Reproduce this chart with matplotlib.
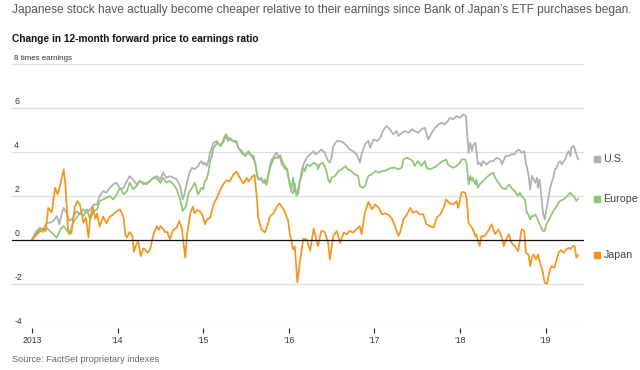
import matplotlib
matplotlib.use("Agg")
import matplotlib.pyplot as plt
from matplotlib.transforms import blended_transform_factory

plt.rcParams['font.family'] = ['Liberation Sans', 'DejaVu Sans']

# ---------------- data (decimal years, change in 12-month forward P/E) ----------------
us_years = [2013.00, 2013.05, 2013.09, 2013.13, 2013.17, 2013.21, 2013.25, 2013.29, 2013.32, 2013.35, 2013.37, 2013.41, 2013.44, 2013.48, 2013.52, 2013.56, 2013.60, 2013.64, 2013.68, 2013.72, 2013.76, 2013.79, 2013.83, 2013.87, 2013.91, 2013.95, 2013.99,
            2014.03, 2014.07, 2014.11, 2014.14, 2014.18, 2014.22, 2014.26, 2014.30, 2014.34, 2014.38, 2014.42, 2014.46, 2014.50, 2014.53, 2014.57, 2014.61, 2014.65, 2014.69, 2014.73, 2014.76, 2014.78, 2014.81, 2014.84, 2014.87, 2014.90, 2014.94, 2014.96, 2014.98,
            2015.00, 2015.02, 2015.04, 2015.06, 2015.08, 2015.10, 2015.12, 2015.16, 2015.20, 2015.22, 2015.25, 2015.27, 2015.29, 2015.31, 2015.35, 2015.39, 2015.41, 2015.43, 2015.45, 2015.49, 2015.51, 2015.55, 2015.59, 2015.61, 2015.63, 2015.64, 2015.66, 2015.68, 2015.70, 2015.72, 2015.74, 2015.76, 2015.78, 2015.80, 2015.82, 2015.84, 2015.86, 2015.88, 2015.90, 2015.92, 2015.94, 2015.96, 2015.98, 2015.99,
            2016.01, 2016.03, 2016.05, 2016.07, 2016.09, 2016.11, 2016.13, 2016.15, 2016.17, 2016.19, 2016.21, 2016.25, 2016.29, 2016.31, 2016.34, 2016.38, 2016.42, 2016.46, 2016.48, 2016.50, 2016.52, 2016.56, 2016.60, 2016.64, 2016.68, 2016.71, 2016.75, 2016.79, 2016.81, 2016.83, 2016.85, 2016.89, 2016.93, 2016.95, 2016.99,
            2017.03, 2017.07, 2017.10, 2017.14, 2017.18, 2017.22, 2017.26, 2017.28, 2017.32, 2017.36, 2017.40, 2017.44, 2017.47, 2017.51, 2017.55, 2017.59, 2017.61, 2017.63, 2017.67, 2017.71, 2017.75, 2017.79, 2017.82, 2017.86, 2017.88, 2017.92, 2017.96,
            2018.00, 2018.04, 2018.07, 2018.10, 2018.12, 2018.14, 2018.15, 2018.18, 2018.19, 2018.21, 2018.23, 2018.25, 2018.27, 2018.31, 2018.35, 2018.39, 2018.43, 2018.47, 2018.49, 2018.53, 2018.56, 2018.60, 2018.64, 2018.66, 2018.69, 2018.72, 2018.75, 2018.77, 2018.80, 2018.82, 2018.84, 2018.86, 2018.88, 2018.90, 2018.91, 2018.93, 2018.95, 2018.97, 2018.99,
            2019.01, 2019.03, 2019.05, 2019.07, 2019.09, 2019.11, 2019.13, 2019.15, 2019.17, 2019.19, 2019.21, 2019.23, 2019.25, 2019.27, 2019.29, 2019.30, 2019.33, 2019.36, 2019.38]
us_values = [0, 0.39, 0.54, 0.47, 0.77, 0.77, 0.85, 1.07, 0.7, 1.22, 1.45, 1.15, 0.85, 1.0, 1.3, 1.15, 1.38, 1.22, 1.38, 1.6, 1.6, 1.98, 2.21, 2.14, 2.36, 2.52, 2.59,
             2.29, 2.36, 2.67, 2.89, 2.74, 2.52, 2.67, 2.52, 2.59, 2.67, 2.82, 2.89, 2.74, 3.05, 2.82, 2.89, 2.82, 2.74, 2.44, 1.83, 2.06, 2.59, 3.05, 3.27, 3.2, 3.35, 3.5, 3.57,
             3.42, 3.5, 3.35, 3.57, 3.95, 4.18, 4.41, 4.48, 4.26, 4.33, 4.56, 4.71, 4.48, 4.56, 4.48, 4.41, 4.18, 4.1, 4.03, 3.8, 3.95, 3.88, 3.65, 3.5, 2.9, 2.82, 2.74, 2.82, 2.59, 2.74, 2.51, 2.97, 3.35, 3.65, 3.73, 3.88, 3.95, 3.73, 3.85, 3.6, 3.45, 3.3, 3.2, 2.9,
             2.6, 2.2, 2.1, 2.55, 2.0, 2.1, 2.65, 3.12, 3.42, 3.57, 3.73, 3.88, 4.03, 3.88, 3.95, 4.1, 3.95, 3.57, 3.5, 3.73, 4.26, 4.48, 4.48, 4.41, 4.26, 4.1, 4.03, 3.88, 3.73, 3.5, 3.88, 4.33, 4.5, 4.18, 4.56,
             4.48, 4.63, 4.94, 5.17, 5.02, 4.79, 4.94, 4.71, 4.86, 4.94, 4.86, 5.02, 4.94, 4.86, 5.02, 5.09, 4.79, 4.56, 4.86, 5.09, 5.24, 5.32, 5.24, 5.4, 5.54, 5.47, 5.62,
             5.54, 5.7, 5.62, 3.95, 4.41, 4.03, 4.26, 4.41, 4.1, 3.42, 3.5, 3.35, 3.57, 3.42, 3.57, 3.57, 3.73, 3.65, 3.42, 3.8, 3.8, 3.88, 3.88, 4.03, 4.1, 3.95, 4.03, 3.5, 2.97, 2.29, 2.9, 2.74, 2.59, 2.82, 2.36, 2.74, 1.98, 1.23, 0.92,
             1.38, 1.83, 2.29, 2.59, 2.82, 3.2, 3.27, 3.5, 3.57, 3.42, 3.57, 3.65, 3.88, 4.03, 3.8, 4.18, 4.26, 3.88, 3.65]

eu_years = [2013.00, 2013.05, 2013.09, 2013.13, 2013.17, 2013.21, 2013.25, 2013.29, 2013.33, 2013.37, 2013.41, 2013.44, 2013.48, 2013.52, 2013.56, 2013.60, 2013.64, 2013.68, 2013.72, 2013.76, 2013.79, 2013.83, 2013.87, 2013.91, 2013.95, 2013.99,
            2014.03, 2014.07, 2014.11, 2014.14, 2014.18, 2014.22, 2014.26, 2014.30, 2014.34, 2014.38, 2014.42, 2014.46, 2014.50, 2014.53, 2014.57, 2014.61, 2014.65, 2014.69, 2014.73, 2014.76, 2014.80, 2014.83, 2014.87, 2014.90, 2014.92, 2014.94, 2014.96, 2014.98,
            2015.00, 2015.02, 2015.04, 2015.06, 2015.08, 2015.10, 2015.12, 2015.14, 2015.16, 2015.20, 2015.23, 2015.25, 2015.27, 2015.29, 2015.31, 2015.35, 2015.39, 2015.41, 2015.45, 2015.49, 2015.53, 2015.55, 2015.59, 2015.63, 2015.64, 2015.66, 2015.70, 2015.72, 2015.74, 2015.78, 2015.82, 2015.84, 2015.88, 2015.90, 2015.92, 2015.94, 2015.96, 2015.98,
            2016.01, 2016.03, 2016.05, 2016.07, 2016.09, 2016.11, 2016.13, 2016.15, 2016.17, 2016.19, 2016.21, 2016.25, 2016.29, 2016.33, 2016.34, 2016.36, 2016.40, 2016.44, 2016.46, 2016.48, 2016.50, 2016.54, 2016.58, 2016.62, 2016.66, 2016.69, 2016.73, 2016.77, 2016.81, 2016.83, 2016.87, 2016.89, 2016.93, 2016.97,
            2017.01, 2017.05, 2017.09, 2017.12, 2017.16, 2017.20, 2017.24, 2017.28, 2017.32, 2017.34, 2017.38, 2017.42, 2017.45, 2017.47, 2017.51, 2017.55, 2017.59, 2017.61, 2017.65, 2017.69, 2017.73, 2017.77, 2017.80, 2017.84, 2017.86, 2017.88, 2017.92, 2017.96,
            2018.00, 2018.02, 2018.06, 2018.08, 2018.10, 2018.12, 2018.14, 2018.15, 2018.18, 2018.19, 2018.21, 2018.23, 2018.27, 2018.31, 2018.35, 2018.39, 2018.41, 2018.45, 2018.49, 2018.53, 2018.56, 2018.58, 2018.60, 2018.64, 2018.68, 2018.70, 2018.72, 2018.76, 2018.78, 2018.80, 2018.82, 2018.84, 2018.86, 2018.88, 2018.90, 2018.93, 2018.97, 2018.99,
            2019.01, 2019.03, 2019.05, 2019.07, 2019.09, 2019.13, 2019.15, 2019.17, 2019.21, 2019.25, 2019.29, 2019.30, 2019.33, 2019.36, 2019.38]
eu_values = [0, 0.3, 0.47, 0.35, 0.54, 0.39, 0.24, 0.09, 0.47, 0.62, 0.39, 0.24, 0.77, 1.0, 1.22, 1.07, 1.38, 0.92, 1.3, 1.38, 1.75, 1.83, 1.91, 1.98, 1.83, 2.06,
             2.36, 2.06, 2.21, 2.59, 2.29, 2.44, 2.67, 2.59, 2.52, 2.67, 2.82, 2.77, 2.59, 2.82, 2.59, 2.67, 2.52, 2.29, 1.83, 1.3, 1.53, 2.14, 2.36, 2.59, 2.35, 2.06, 2.2, 2.36,
             2.29, 2.67, 2.74, 3.05, 3.57, 3.8, 4.18, 4.26, 4.41, 4.26, 4.48, 4.71, 4.79, 4.56, 4.63, 4.48, 4.48, 4.18, 3.95, 3.8, 4.03, 3.88, 3.8, 2.97, 2.74, 2.74, 2.67, 2.59, 2.51, 3.27, 3.65, 3.73, 3.73, 3.75, 3.4, 3.35, 3.2, 3.2,
             2.51, 2.29, 2.82, 2.21, 2.06, 2.29, 2.67, 2.9, 3.27, 3.12, 3.42, 3.35, 3.5, 3.42, 3.2, 3.42, 3.5, 3.12, 2.74, 2.59, 2.82, 2.9, 3.12, 3.2, 3.35, 3.2, 3.12, 2.97, 2.9, 2.44, 2.36, 2.44, 2.9, 2.97,
             3.12, 3.05, 3.12, 3.12, 3.2, 3.27, 3.27, 3.2, 3.27, 3.65, 3.73, 3.65, 3.57, 3.35, 3.57, 3.35, 3.57, 3.27, 3.2, 3.27, 3.35, 3.5, 3.57, 3.65, 3.42, 3.35, 3.27, 3.35,
             3.5, 3.65, 3.65, 3.42, 2.51, 2.9, 2.67, 2.82, 2.51, 2.74, 2.36, 2.51, 2.67, 2.82, 2.97, 3.05, 2.82, 2.59, 2.36, 2.29, 2.44, 2.51, 2.36, 2.21, 1.98, 2.14, 1.98, 1.83, 1.23, 1.15, 0.92, 1.07, 1.07, 1.15, 0.99, 0.7, 0.4, 0.4,
             0.7, 0.85, 0.99, 1.15, 1.3, 1.53, 1.68, 1.76, 1.83, 1.98, 2.14, 2.06, 1.98, 1.76, 1.86]

jp_years = [2013.00, 2013.07, 2013.13, 2013.16, 2013.19, 2013.23, 2013.27, 2013.30, 2013.33, 2013.37, 2013.39, 2013.42, 2013.46, 2013.50, 2013.53, 2013.56, 2013.60, 2013.63, 2013.66, 2013.68, 2013.71, 2013.74, 2013.76, 2013.79, 2013.83, 2013.87, 2013.91, 2013.95, 2013.99,
            2014.03, 2014.07, 2014.09, 2014.11, 2014.14, 2014.17, 2014.19, 2014.21, 2014.24, 2014.27, 2014.30, 2014.32, 2014.35, 2014.38, 2014.42, 2014.46, 2014.48, 2014.50, 2014.53, 2014.55, 2014.58, 2014.61, 2014.65, 2014.69, 2014.72, 2014.75, 2014.79, 2014.81, 2014.85, 2014.88, 2014.90, 2014.93, 2014.96, 2014.99,
            2015.02, 2015.04, 2015.08, 2015.12, 2015.16, 2015.20, 2015.23, 2015.27, 2015.31, 2015.35, 2015.39, 2015.43, 2015.47, 2015.51, 2015.53, 2015.57, 2015.60, 2015.63, 2015.64, 2015.68, 2015.72, 2015.74, 2015.78, 2015.82, 2015.86, 2015.89, 2015.94, 2015.98, 2015.99,
            2016.01, 2016.05, 2016.07, 2016.10, 2016.13, 2016.17, 2016.21, 2016.25, 2016.29, 2016.31, 2016.34, 2016.38, 2016.42, 2016.46, 2016.48, 2016.52, 2016.56, 2016.60, 2016.64, 2016.68, 2016.71, 2016.75, 2016.79, 2016.83, 2016.85, 2016.89, 2016.93, 2016.97,
            2017.01, 2017.05, 2017.09, 2017.12, 2017.16, 2017.20, 2017.24, 2017.28, 2017.30, 2017.34, 2017.38, 2017.42, 2017.45, 2017.49, 2017.53, 2017.57, 2017.61, 2017.65, 2017.69, 2017.73, 2017.77, 2017.80, 2017.84, 2017.88, 2017.92, 2017.96, 2017.98,
            2018.02, 2018.06, 2018.08, 2018.10, 2018.14, 2018.18, 2018.19, 2018.23, 2018.25, 2018.29, 2018.33, 2018.37, 2018.41, 2018.45, 2018.49, 2018.51, 2018.55, 2018.57, 2018.60, 2018.64, 2018.68, 2018.72, 2018.75, 2018.77, 2018.80, 2018.82, 2018.84, 2018.86, 2018.89, 2018.91, 2018.93, 2018.97, 2018.99,
            2019.02, 2019.04, 2019.07, 2019.10, 2019.12, 2019.15, 2019.18, 2019.21, 2019.24, 2019.27, 2019.29, 2019.32, 2019.34, 2019.36, 2019.38]
jp_values = [0, 0.3, 0.5, 0.4, 1.45, 1.23, 2.36, 2.06, 2.5, 3.2, 2.5, 0.47, 0.3, 1.5, 1.75, 1.6, 0.77, 1.0, 0.1, 1.0, 1.5, 0.95, 1.2, 0.6, 1.05, 0.75, 1.05, 1.15, 1.3,
             1.38, 1.0, 0.25, 0.1, 0.35, 0.2, -0.55, -0.3, -0.05, -0.75, -0.4, -0.44, -0.6, -0.44, 0.25, 0.62, 0.45, 0.62, 0.5, 0.35, 0.35, 0.02, 0.45, 0.55, 0.85, 0.5, -0.82, 0.2, 1.23, 1.5, 1.2, 1.35, 1.3, 1.15,
             0.7, 0.9, 1.0, 1.6, 1.9, 2.27, 2.5, 2.7, 2.65, 2.95, 3.1, 2.8, 2.55, 2.8, 2.65, 2.85, 2.95, 1.75, 1.05, 0.47, 0.33, 0.5, 1.05, 1.2, 1.5, 1.65, 1.38, 1.0, 0.9,
             0.32, -0.44, -0.3, -1.95, -1.0, 0.05, 0.0, -0.5, 0.5, 0.2, -0.3, 0.4, 0.35, -0.15, -0.9, 0.17, 0.4, -0.15, 0.32, 0.25, 0.4, 0.32, 0.47, 0.62, 0.25, 1.23, 1.72, 1.38,
             1.6, 1.45, 1.15, 1.2, 1.15, 0.99, 0.62, 0.17, 0.32, 0.92, 1.15, 1.45, 1.22, 1.3, 1.15, 1.15, 0.7, 0.62, 0.55, 1.0, 1.15, 1.38, 1.83, 1.65, 1.6, 1.75, 1.45,
             2.17, 2.14, 1.83, 0.77, 0.55, 0.17, 0.25, -0.29, 0.17, 0.17, 0.4, 0.7, 0.25, 0.47, 0.1, -0.29, 0.1, 0.25, -0.13, -0.29, -0.52, 0.47, 0.4, -0.6, -0.67, -1.2, -0.82, -0.67, -0.9, -0.67, -0.97, -1.5, -1.96,
             -2.0, -1.5, -1.2, -1.27, -1.05, -0.6, -0.47, -0.6, -0.45, -0.37, -0.42, -0.29, -0.29, -0.82, -0.7]

series_names = ["U.S.", "Europe", "Japan"]
series_colors = ["#b0b0b0", "#8cc873", "#f7941d"]

year_ticks = [2013, 2014, 2015, 2016, 2017, 2018, 2019]
year_labels = ["2013", "\u201914", "\u201915", "\u201916", "\u201917", "\u201918", "\u201919"]
y_ticks = [8, 6, 4, 2, 0, -2, -4]
y_labels = ["8 times earnings", "6", "4", "2", "0", "-2", "-4"]

title = "Japanese stock have actually become cheaper relative to their earnings since Bank of Japan\u2019s ETF purchases began."
subtitle = "Change in 12-month forward price to earnings ratio"
source = "Source: FactSet proprietary indexes"

# ---------------- figure ----------------
W, H = 640, 370
fig = plt.figure(figsize=(W / 100, H / 100), dpi=100)
ax = fig.add_axes([12 / W, (H - 327.7) / H, 572 / W, 264 / H])
ax.set_xlim(2012.766, 2019.449)
ax.set_ylim(-4, 8)
for s in ax.spines.values():
    s.set_visible(False)
ax.set_yticks([])

for v in y_ticks:
    if v == 0:
        ax.axhline(v, color="#111111", lw=0.9, zorder=5)
    else:
        ax.axhline(v, color="#dedede", lw=0.9, zorder=0)

ax.set_xticks(year_ticks)
ax.set_xticklabels(year_labels)
ax.tick_params(axis="x", length=3.5, width=0.8, color="#222222", pad=2.5,
               labelsize=6.2, labelcolor="#333333")

ytrans = blended_transform_factory(ax.transAxes, ax.transData)
for v, lab in zip(y_ticks, y_labels):
    ax.text(0.004, v + 0.07, lab, transform=ytrans, ha="left", va="bottom",
            fontsize=6.3 if v != 8 else 5.7, color="#333333")

years_list = [us_years, eu_years, jp_years]
vals_list = [us_values, eu_values, jp_values]
for yrs, vals, c in zip(years_list, vals_list, series_colors):
    ax.plot(yrs, vals, color=c, lw=1.25, solid_joinstyle="round", zorder=3)

# end labels
for name, vals, c in zip(series_names, vals_list, series_colors):
    last = vals[-1]
    ax.plot([1.0219], [last], marker="s", ms=5, color=c, transform=ytrans,
            clip_on=False, linestyle="none")
    ax.text(1.034, last, name, transform=ytrans, ha="left", va="center",
            fontsize=7.7, color="#444444")

fig.text(12 / W, 1 - 10 / H, title, ha="left", va="center", fontsize=8.6, color="#555555")
fig.text(12 / W, 1 - 38.5 / H, subtitle, ha="left", va="center", fontsize=7.3,
         fontweight="bold", color="#111111")
fig.text(12 / W, 1 - 360 / H, source, ha="left", va="center", fontsize=6.6, color="#666666")

fig.savefig("out.png", dpi=100)
